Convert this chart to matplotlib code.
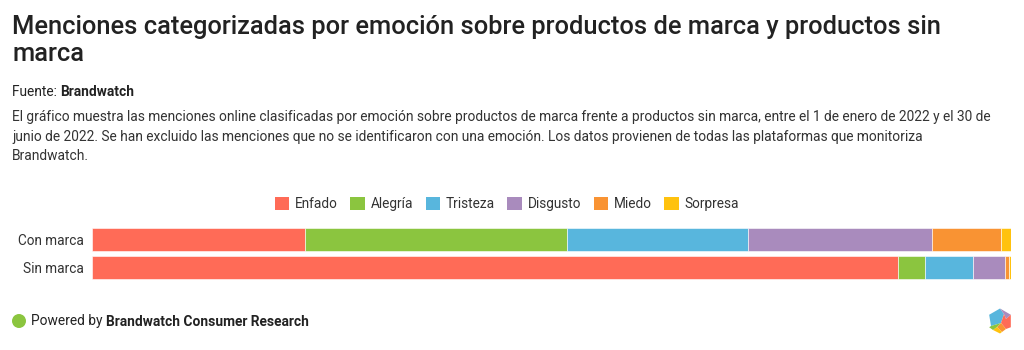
import matplotlib.pyplot as plt
from matplotlib.patches import Patch, Ellipse, Polygon
import numpy as np

plt.rcParams['font.family'] = ['Roboto', 'DejaVu Sans']

# datos (% de menciones por emoción)
grupos = ['Con marca', 'Sin marca']
emociones = ['Enfado', 'Alegría', 'Tristeza', 'Disgusto', 'Miedo', 'Sorpresa']
con_marca = [23.2, 28.5, 19.7, 20.0, 7.5, 1.1]
sin_marca = [87.7, 2.9, 5.3, 3.5, 0.4, 0.2]
colores = ['#ff6b57', '#8bc53f', '#58b6dd', '#a98bbd', '#f99333', '#ffc20e']

titulo = ['Menciones categorizadas por emoción sobre productos de marca y productos sin',
          'marca']
descripcion = ['El gráfico muestra las menciones online clasificadas por emoción sobre productos de marca frente a productos sin marca, entre el 1 de enero de 2022 y el 30 de',
               'junio de 2022. Se han excluido las menciones que no se identificaron con una emoción. Los datos provienen de todas las plataformas que monitoriza',
               'Brandwatch.']

W, H = 1024, 350
fig = plt.figure(figsize=(W / 100, H / 100), dpi=100)


def px(x, y):
    return x / W, 1 - y / H


def texto_seguido(x, y, partes, size, color):
    # escribe varios trozos de texto uno detrás de otro en la misma línea
    r = fig.canvas.get_renderer()
    for txt, peso in partes:
        t = fig.text(*px(x, y), txt, fontsize=size, fontweight=peso, color=color,
                     va='baseline', ha='left')
        bb = t.get_window_extent(renderer=r)
        x += bb.width


for i, linea in enumerate(titulo):
    fig.text(*px(12, 34 + i * 27), linea, fontsize=18.4, fontweight='medium',
             color='#222222', va='baseline', ha='left')
texto_seguido(12, 96, [('Fuente: ', 'normal'), ('Brandwatch', 'bold')], 9.9, '#222222')
for i, linea in enumerate(descripcion):
    fig.text(*px(12, 121 + i * 19.5), linea, fontsize=9.95, color='#333333',
             va='baseline', ha='left')

ax = fig.add_axes([92 / W, 1 - 281.5 / H, 919 / W, 56 / H])
datos = np.array([con_marca, sin_marca])
izq = np.zeros(len(grupos))
for i, emo in enumerate(emociones):
    ax.barh(grupos, datos[:, i], left=izq, height=0.82, color=colores[i],
            edgecolor='white', linewidth=0.4, label=emo)
    izq += datos[:, i]
ax.set_xlim(0, izq.max())
ax.set_ylim(1.5, -0.5)
ax.set_xticks([])
ax.tick_params(axis='y', length=0, labelsize=9.8, labelcolor='#333333', pad=6)
for s in ax.spines.values():
    s.set_visible(False)

handles = [Patch(facecolor=c, edgecolor='none', label=e) for e, c in zip(emociones, colores)]
fig.legend(handles=handles, loc='center', bbox_to_anchor=(507 / W, 1 - 204 / H), ncol=6,
           frameon=False, fontsize=9.8, handlelength=1.05, handleheight=1.05,
           handletextpad=0.45, columnspacing=0.9, labelcolor='#333333')

# pie: "Powered by ..."
fig.patches.append(Ellipse(px(19, 321), 14 / W, 14 / H, transform=fig.transFigure,
                           facecolor='#8bc53f', edgecolor='none'))
texto_seguido(31, 325.5, [('Powered by ', 'normal'), ('Brandwatch Consumer Research', 'bold')],
              9.9, '#222222')

# logo hexagonal
cx, cy, r = 1000, 321, 12.5
ang = np.deg2rad([90, 30, -30, -90, -150, 150])
v = [(cx + r * np.cos(a), cy - r * np.sin(a)) for a in ang]
c = (cx + 1, cy + 2)
trozos = [
    ([v[5], v[0], (cx + 4, cy - 7), c, (cx - 9, cy + 5)], '#58b6dd'),
    ([v[0], v[1], (cx + 6, cy - 2), (cx + 4, cy - 7)], '#a98bbd'),
    ([(cx + 4, cy - 7), (cx + 6, cy - 2), v[1], v[2], (cx + 6, cy + 8), c], '#ff6b57'),
    ([c, (cx + 6, cy + 8), (cx + 2, cy + 11), (cx - 3, cy + 6)], '#f99333'),
    ([(cx - 3, cy + 6), (cx + 2, cy + 11), v[3], (cx - 7, cy + 9)], '#ffc20e'),
    ([(cx - 9, cy + 5), c, (cx - 3, cy + 6), (cx - 7, cy + 9), v[4]], '#8bc53f'),
]
for pts, col in trozos:
    fig.patches.append(Polygon([px(x, y) for x, y in pts], closed=True,
                               transform=fig.transFigure, facecolor=col, edgecolor='none'))

fig.savefig('out.png', dpi=100)
